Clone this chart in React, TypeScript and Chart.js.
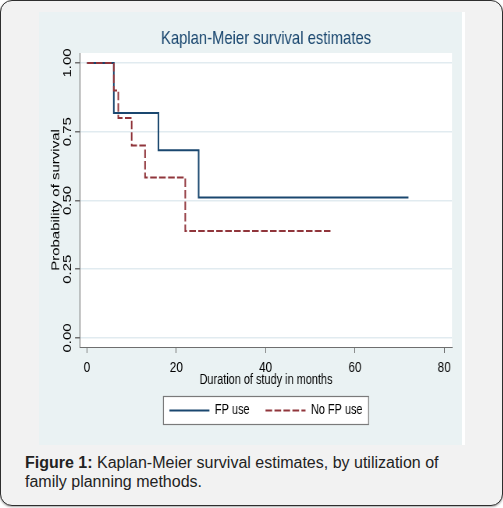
import * as React from 'react';
import {useRef, useEffect} from 'react';
import {Chart, registerables} from 'chart.js';

Chart.register(...registerables);

// Kaplan-Meier steps
const fpTime = [0, 6, 16, 25, 72];
const fpSurv = [1, 0.818, 0.682, 0.511, 0.511];
const noFpTime = [0, 6, 7, 10, 13, 22, 55];
const noFpSurv = [1, 0.9, 0.8, 0.7, 0.583, 0.389, 0.389];

const seriesNames = ['FP use', 'No FP use'];
const xTicks = [0, 20, 40, 60, 80];
const yTicks = [0, 0.25, 0.5, 0.75, 1];
const yTickLabels = ['0.00', '0.25', '0.50', '0.75', '1.00'];

const FONT = '"Liberation Sans", Arial, sans-serif';
const NAVY = '#1a476f';
const MAROON = '#90353b';
const AXIS = '#6e6e6e';

// the Stata export is squeezed sideways: draw wide, show narrow
const CW = 423;
const CH = 433;
const IW = 542;
const SX = CW / IW;
const PLOT_BOTTOM = 335;
const PAD_BOTTOM = 18;
const KEY_W = 40 / SX;
const LEGEND_FONT = 14;

const stataPlugin = {
  id: 'stata',
  beforeDraw(chart: any) {
    const {ctx, chartArea: a} = chart;
    ctx.save();
    ctx.fillStyle = '#ffffff';
    ctx.fillRect(a.left, a.top, a.right - a.left, a.bottom - a.top);
    const boxes = chart.legend && chart.legend.legendHitBoxes;
    if (boxes && boxes.length) {
      const l = Math.min(...boxes.map((b: any) => b.left)) - 6 / SX;
      const r = Math.max(...boxes.map((b: any) => b.left + b.width)) + 6 / SX;
      const t = Math.round(boxes[0].top - 7.5);
      ctx.fillStyle = '#ffffff';
      ctx.fillRect(l, t, r - l, 28);
      ctx.strokeStyle = '#7a7a7a';
      ctx.lineWidth = 1.2;
      ctx.strokeRect(l, t + 0.5, r - l, 28);
    }
    ctx.restore();
  },
  afterDraw(chart: any) {
    const {ctx, chartArea: a} = chart;
    const ys = chart.scales.y;
    ctx.save();
    ctx.fillStyle = '#000000';
    ctx.textAlign = 'center';
    ctx.textBaseline = 'middle';
    ctx.font = '15px ' + FONT;
    yTicks.forEach((v, i) => {
      const py = ys.getPixelForValue(v);
      ctx.save();
      ctx.translate(a.left - 12 / SX, py);
      ctx.rotate(-Math.PI / 2);
      ctx.fillText(yTickLabels[i], 0, 0);
      ctx.restore();
    });
    ctx.save();
    ctx.translate(17 / SX, (a.top + a.bottom) / 2);
    ctx.rotate(-Math.PI / 2);
    ctx.fillText('Probability of survival', 0, 0);
    ctx.restore();

    // legend keys: plain open strokes so the dash pattern stays visible
    const legend = chart.legend;
    if (legend && legend.legendHitBoxes) {
      legend.legendItems.forEach((item: any, i: number) => {
        const hb = legend.legendHitBoxes[i];
        const ds = chart.data.datasets[item.datasetIndex];
        const y = Math.round(hb.top + LEGEND_FONT / 2) + 0.5;
        ctx.beginPath();
        ctx.setLineDash(ds.borderDash || []);
        ctx.strokeStyle = ds.borderColor;
        ctx.lineWidth = ds.borderWidth;
        ctx.moveTo(hb.left, y);
        ctx.lineTo(hb.left + KEY_W, y);
        ctx.stroke();
      });
    }
    ctx.restore();
  },
};

function KaplanMeier(): JSX.Element {
  const canvasRef = useRef<HTMLCanvasElement>(null);

  useEffect(() => {
    if (!canvasRef.current) return;
    Chart.defaults.font.family = FONT;
    const chart = new Chart(canvasRef.current, {
      type: 'line',
      data: {
        datasets: [
          {
            label: seriesNames[0],
            data: fpTime.map((t, i) => ({x: t, y: fpSurv[i]})),
            borderColor: NAVY,
            backgroundColor: NAVY,
            borderWidth: 2,
            pointRadius: 0,
            stepped: 'before',
            order: 1,
          },
          {
            label: seriesNames[1],
            data: noFpTime.map((t, i) => ({x: t, y: noFpSurv[i]})),
            borderColor: MAROON,
            backgroundColor: MAROON,
            borderWidth: 2,
            borderDash: [8.5, 3],
            pointRadius: 0,
            stepped: 'before',
            order: 0,
          },
        ],
      },
      options: {
        responsive: false,
        animation: false,
        layout: {padding: {left: 41 / SX, right: 10 / SX, top: 0, bottom: PAD_BOTTOM}},
        plugins: {
          title: {
            display: true,
            text: 'Kaplan-Meier survival estimates',
            color: NAVY,
            font: {family: FONT, size: 19, weight: 'normal'},
            padding: {top: 15.5, bottom: 2.7},
          },
          legend: {
            position: 'bottom',
            labels: {
              usePointStyle: true,
              pointStyle: 'line',
              pointStyleWidth: KEY_W,
              padding: 16 / SX,
              color: '#000000',
              font: {family: FONT, size: LEGEND_FONT},
              generateLabels: (c: any) =>
                Chart.defaults.plugins.legend.labels.generateLabels(c).map((l: any) => ({
                  ...l, lineWidth: 0, fillStyle: 'rgba(0,0,0,0)', strokeStyle: 'rgba(0,0,0,0)',
                })),
              sort: (a: any, b: any) => a.datasetIndex - b.datasetIndex,
            },
          },
          tooltip: {enabled: false},
        },
        scales: {
          x: {
            type: 'linear',
            min: -1.57,
            max: 81.75,
            afterBuildTicks: (s: any) => { s.ticks = xTicks.map((v) => ({value: v})); },
            afterFit: (s: any) => {
              const lh = s.chart.legend ? s.chart.legend.height : 44.5;
              s.height = CH - PAD_BOTTOM - lh - PLOT_BOTTOM;
            },
            grid: {color: 'rgba(0,0,0,0)', tickColor: AXIS, tickLength: 6},
            border: {color: AXIS, width: 1},
            ticks: {color: '#000000', padding: 6, font: {family: FONT, size: 15}, callback: (v: any) => String(v)},
            title: {
              display: true, text: 'Duration of study in months', color: '#000000',
              font: {family: FONT, size: 14}, padding: {top: 0, bottom: -6},
            },
          },
          y: {
            type: 'linear',
            min: -0.033,
            max: 1.036,
            afterBuildTicks: (s: any) => { s.ticks = yTicks.map((v) => ({value: v})); },
            afterFit: (s: any) => { s.width = 0; },
            grid: {color: '#e1ebf0', lineWidth: 1.5, tickColor: AXIS, tickLength: 5 / SX},
            border: {color: AXIS, width: 1},
            ticks: {display: false},
          },
        },
      },
      plugins: [stataPlugin],
    });
    return () => chart.destroy();
  }, []);

  return (
    <canvas ref={canvasRef} width={IW} height={CH} style={{width: CW, height: CH, display: 'block'}} />
  );
}

export default function App(): JSX.Element {
  return (
    <div style={{position: 'absolute', left: 0, top: 0, width: 503, height: 508, fontFamily: FONT}}>
      <div style={{
        position: 'absolute', left: 0, top: 0, width: 503, height: 506, boxSizing: 'border-box',
        border: '1.5px solid #2e2e2e', borderRadius: 12, background: '#f2f2f2',
        boxShadow: '0 1px 2px rgba(0,0,0,0.35)',
      }} />
      <div style={{position: 'absolute', left: 39, top: 12, width: CW, height: CH, background: '#eaf2f3'}}>
        <KaplanMeier />
      </div>
      <div style={{position: 'absolute', left: 462, top: 12, width: 3, height: CH, background: '#ffffff'}} />
      <div style={{position: 'absolute', left: 25, top: 453, width: 440, fontSize: 16, lineHeight: '19px', color: '#222222'}}>
        <b>Figure 1:</b> Kaplan-Meier survival estimates, by utilization of family planning methods.
      </div>
    </div>
  );
}
